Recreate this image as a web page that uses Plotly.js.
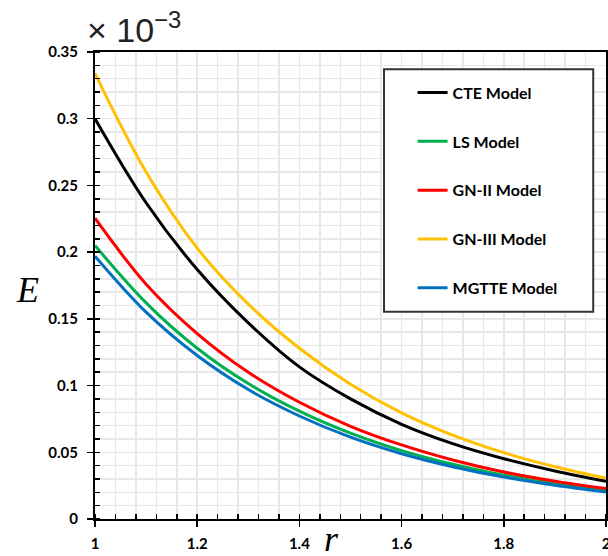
<!DOCTYPE html>
<html>
<head>
<meta charset="utf-8">
<script src="https://cdn.plot.ly/plotly-3.0.1.min.js"></script>
<style>
html,body{margin:0;padding:0;background:#fff;}
#chart{width:608px;height:556px;}
</style>
</head>
<body>
<div id="chart"></div>
<script>
// r values
const r = [1.0, 1.1, 1.2, 1.3, 1.4, 1.5, 1.6, 1.7, 1.8, 1.9, 2.0];
// E values (x 10^-3)
const cte   = [0.300, 0.237, 0.187, 0.147, 0.114, 0.090, 0.071, 0.0565, 0.0452, 0.0360, 0.0282];
const ls    = [0.205, 0.162, 0.128, 0.1015, 0.0808, 0.0643, 0.0512, 0.0410, 0.0328, 0.0264, 0.0212];
const gn2   = [0.2254, 0.176, 0.139, 0.110, 0.0875, 0.0695, 0.0555, 0.0442, 0.0352, 0.0283, 0.0228];
const gn3   = [0.334, 0.260, 0.203, 0.161, 0.128, 0.101, 0.0795, 0.0628, 0.0497, 0.0392, 0.0307];
const mgtte = [0.197, 0.155, 0.1225, 0.097, 0.0772, 0.0613, 0.0489, 0.0392, 0.0314, 0.0253, 0.0203];
const names = ['CTE Model', 'LS Model', 'GN-II Model', 'GN-III Model', 'MGTTE Model'];
const series = [cte, ls, gn2, gn3, mgtte];
const colors = ['#000000', '#00B050', '#FF0000', '#FFC000', '#0070C0'];
const xTicks = [1, 1.2, 1.4, 1.6, 1.8, 2];
const xTickText = ['1', '1.2', '1.4', '1.6', '1.8', '2'];

const traces = series.map((ys, i) => ({
  x: r, y: ys, type: 'scatter', mode: 'lines', name: names[i],
  legendgroup: 'g' + i,
  line: {color: colors[i], width: 3, shape: 'spline', smoothing: 1}
}));

const tickFont = {family: 'Lato, "Liberation Sans", sans-serif', size: 15, color: '#000', weight: 'bold'};

const layout = {
  width: 608, height: 556,
  margin: {l: 95, r: 2, t: 52, b: 37},
  paper_bgcolor: '#ffffff', plot_bgcolor: '#ffffff',
  showlegend: true,
  legend: {
    x: 0.6215, y: 0.9494, xanchor: 'left', yanchor: 'top',
    bgcolor: 'rgba(0,0,0,0)', borderwidth: 0,
    font: {family: 'Lato, "Liberation Sans", sans-serif', size: 16, color: '#000', weight: 'bold'},
    tracegroupgap: 25, itemwidth: 30
  },
  xaxis: {
    range: [1, 2], tickmode: 'array', tickvals: xTicks, ticktext: xTickText,
    ticklabeloverflow: 'allow',
    showline: true, linecolor: '#000', linewidth: 2, mirror: true,
    ticks: 'outside', ticklen: 6, tickwidth: 1.5, tickcolor: '#000',
    ticklabelstandoff: 4,
    showgrid: true, gridcolor: '#e8e8e8', gridwidth: 1.5,
    zeroline: false, tickfont: tickFont,
    minor: {tick0: 1, dtick: 0.04, showgrid: true, gridcolor: '#e8e8e8', gridwidth: 1.5, ticks: 'inside', ticklen: 5, tickcolor: '#000', tickwidth: 1.5}
  },
  yaxis: {
    range: [0, 0.35], tick0: 0, dtick: 0.05, tickformat: '~r',
    ticklabeloverflow: 'allow',
    showline: true, linecolor: '#000', linewidth: 2, mirror: true,
    ticks: 'outside', ticklen: 6, tickwidth: 1.5, tickcolor: '#000',
    ticklabelstandoff: 6,
    showgrid: true, gridcolor: '#e8e8e8', gridwidth: 1.5,
    zeroline: false, tickfont: tickFont,
    minor: {dtick: 0.01, showgrid: true, gridcolor: '#e8e8e8', gridwidth: 1.5, ticks: 'inside', ticklen: 5, tickcolor: '#000', tickwidth: 1.5}
  },
  shapes: [{
    type: 'rect', xref: 'paper', yref: 'paper',
    x0: 0.5656, x1: 0.975, y0: 0.4439, y1: 0.963,
    line: {color: '#333', width: 2}, fillcolor: '#ffffff', layer: 'above'
  }],
  annotations: [
    {text: '× 10<sup>−3</sup>', xref: 'paper', yref: 'paper', x: -0.02, y: 1.052, xanchor: 'left', yanchor: 'middle',
     showarrow: false, font: {family: '"Liberation Sans", Arial, sans-serif', size: 34, color: '#222'}},
    {text: '<i>E</i>', xref: 'paper', yref: 'paper', x: -0.133, y: 0.49, xanchor: 'center', yanchor: 'middle',
     showarrow: false, font: {family: '"Liberation Serif", "DejaVu Serif", serif', size: 36, color: '#000'}},
    {text: '<i>r</i>', xref: 'paper', yref: 'paper', x: 0.462, y: -0.043, xanchor: 'center', yanchor: 'middle',
     showarrow: false, font: {family: '"Liberation Serif", "DejaVu Serif", serif', size: 36, color: '#000'}}
  ]
};

Plotly.newPlot('chart', traces, layout, {displayModeBar: false, staticPlot: true});
</script>
</body>
</html>
